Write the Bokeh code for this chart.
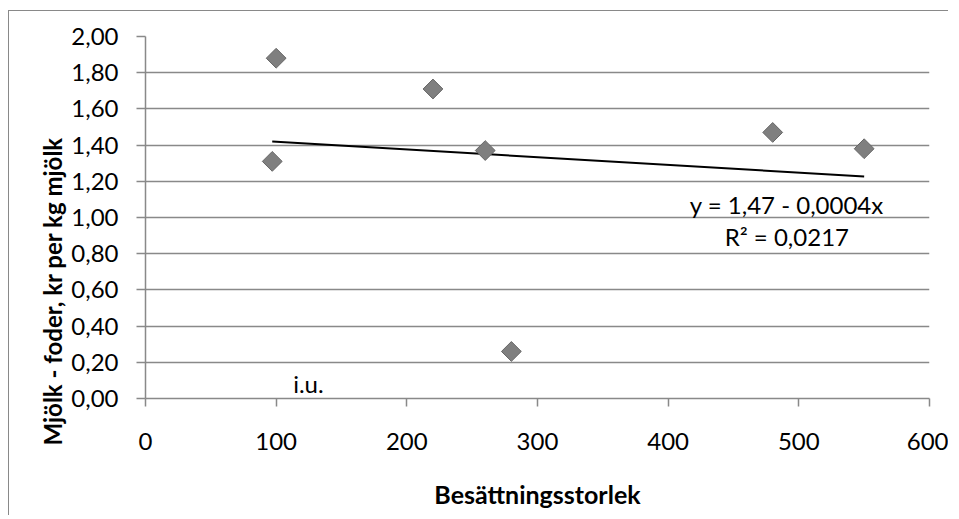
import numpy as np
from bokeh.plotting import figure
from bokeh.models import Range1d, FixedTicker, CustomJSTickFormatter, Label, Title, ColumnDataSource
from bokeh.embed import file_html
from bokeh.resources import INLINE

# Data
herd_size = [97, 100, 220, 260, 280, 480, 550]
margin = [1.31, 1.88, 1.71, 1.37, 0.26, 1.47, 1.38]
x_ticks = [0, 100, 200, 300, 400, 500, 600]
y_ticks = [0.0, 0.2, 0.4, 0.6, 0.8, 1.0, 1.2, 1.4, 1.6, 1.8, 2.0]
eq_text = "y = 1,47 - 0,0004x"
r2_text = "R² = 0,0217"
na_text = "i.u."
x_title = "Besättningsstorlek"
y_title = "Mjölk - foder, kr per kg mjölk"

FONT = "Lato"
GRID = "#898989"

p = figure(width=940, height=505, output_backend="svg", toolbar_location=None,
           x_range=Range1d(0, 600), y_range=Range1d(0, 2),
           min_border_left=136, min_border_right=20, min_border_top=25, min_border_bottom=118)
p.styles = {"border-left": "1px solid #898989", "border-top": "1px solid #898989",
            "margin-left": "8px", "margin-top": "10px"}
p.outline_line_color = None
p.background_fill_color = "white"
p.border_fill_color = "white"

p.xgrid.visible = False
p.ygrid.ticker = FixedTicker(ticks=y_ticks)
p.ygrid.grid_line_color = GRID
p.ygrid.grid_line_width = 1.5

for ax in (p.xaxis[0], p.yaxis[0]):
    ax.axis_line_color = GRID
    ax.axis_line_width = 1.5
    ax.major_tick_line_color = GRID
    ax.major_tick_line_width = 1.5
    ax.major_tick_in = 0
    ax.minor_tick_line_color = None
    ax.major_label_text_font = FONT
    ax.major_label_text_font_size = "24px"
    ax.major_label_text_color = "black"
    ax.axis_label_text_font = FONT
    ax.axis_label_text_font_style = "bold"
    ax.axis_label_text_font_size = "25px"
    ax.axis_label_text_color = "black"

p.xaxis.ticker = FixedTicker(ticks=x_ticks)
p.yaxis.ticker = FixedTicker(ticks=y_ticks)
p.xaxis.major_tick_out = 8
p.yaxis.major_tick_out = 9
p.xaxis.major_label_standoff = 26
p.yaxis.major_label_standoff = 18
p.yaxis.formatter = CustomJSTickFormatter(code="return tick.toFixed(2).replace('.', ',');")
p.xaxis.axis_label = x_title
p.xaxis.axis_label_standoff = 26

# y-axis title placed as in the reference (starts below the plot bottom)
p.add_layout(Title(text=y_title, align="left", offset=-47, standoff=4,
                   text_font=FONT, text_font_style="bold", text_font_size="24px",
                   text_color="black"), "left")

# Linear trend from data
xa = np.array(herd_size, dtype=float)
ya = np.array(margin, dtype=float)
slope, intercept = np.polyfit(xa, ya, 1)
xl = np.array([xa.min(), xa.max()])
p.line(xl, intercept + slope * xl, line_color="black", line_width=2)

src = ColumnDataSource(dict(x=herd_size, y=margin))
p.scatter("x", "y", source=src, marker="square", angle=np.pi / 4, size=14,
          fill_color="#7f7f7f", line_color="#666666", line_width=1)

p.add_layout(Label(x=490.8, y=1.07, text=eq_text, text_align="center", text_baseline="alphabetic",
                   text_font=FONT, text_font_size="24px", text_color="black"))
p.add_layout(Label(x=490.8, y=0.893, text=r2_text, text_align="center", text_baseline="alphabetic",
                   text_font=FONT, text_font_size="24px", text_color="black"))
p.add_layout(Label(x=113, y=0.005, text=na_text, text_align="left", text_baseline="bottom",
                   text_font=FONT, text_font_size="24px", text_color="black"))

open("out.html", "w").write(file_html(p, INLINE))
